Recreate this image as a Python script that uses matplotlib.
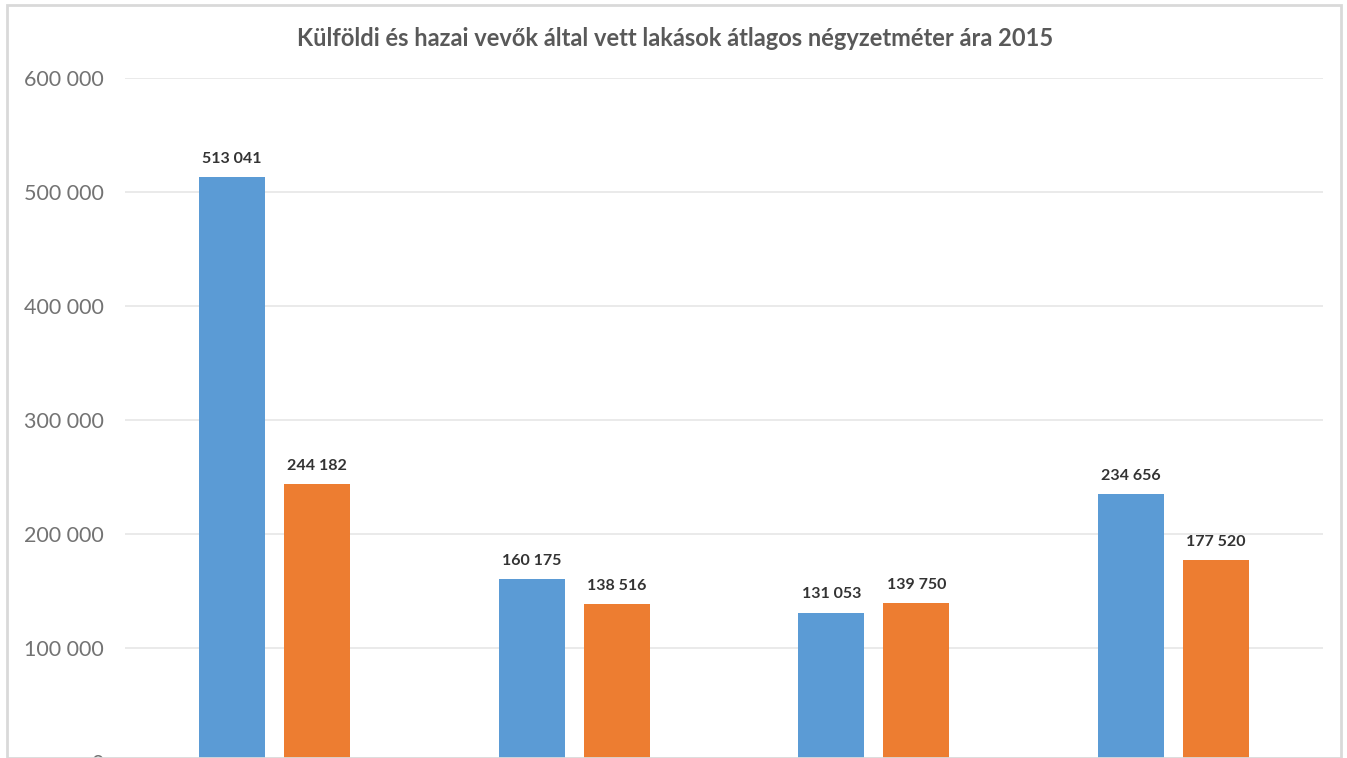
import matplotlib.pyplot as plt
from matplotlib.patches import Rectangle
import numpy as np

plt.rcParams["font.family"] = ["Lato", "DejaVu Sans"]

# data
categories = ["1", "2", "3", "4"]
kulfoldi = [513041, 160175, 131053, 234656]
hazai = [244182, 138516, 139750, 177520]
yticks = [0, 100000, 200000, 300000, 400000, 500000, 600000]

blue = "#5B9BD5"
orange = "#ED7D31"


def fmt(v):
    return f"{v:,}".replace(",", " ")


fig = plt.figure(figsize=(13.47, 7.58), dpi=100)
W, H = 1347, 758

# y=0 sits just below the visible image (chart is cropped)
ax = fig.add_axes([125 / W, (758 - 762) / H, 1198 / W, (762 - 78) / H])

x = np.arange(len(categories))
w = 0.22
off = 0.142
b1 = ax.bar(x - off, kulfoldi, w, color=blue, zorder=3)
b2 = ax.bar(x + off, hazai, w, color=orange, zorder=3)

for bars, vals in [(b1, kulfoldi), (b2, hazai)]:
    for r, v in zip(bars, vals):
        ax.annotate(fmt(v), (r.get_x() + r.get_width() / 2, v),
                    xytext=(0, 8), textcoords="offset points",
                    ha="center", va="bottom", fontsize=11.5, fontweight="bold",
                    color="#333333")

ax.set_xlim(-0.5, 3.5)
ax.set_ylim(0, 600000)
ax.set_yticks(yticks)
ax.set_yticklabels([fmt(t) for t in yticks], fontsize=15.5, color="#737373")
ax.set_xticks([])
ax.tick_params(axis="y", length=0, pad=15)
ax.grid(axis="y", color="#E6E6E6", linewidth=1.2, zorder=0)
for s in ax.spines.values():
    s.set_visible(False)

fig.text(675 / W, 1 - 38 / H,
         "Külföldi és hazai vevők által vett lakások átlagos négyzetméter ára 2015",
         ha="center", va="center", fontsize=17, fontweight="bold", color="#595959")

# outer chart frame
fig.patches.append(Rectangle((7 / W, 0), (1341 - 7) / W, 1 - 5 / H,
                             transform=fig.transFigure, fill=False,
                             edgecolor="#D9D9D9", linewidth=2))

fig.savefig("out.png", dpi=100)
